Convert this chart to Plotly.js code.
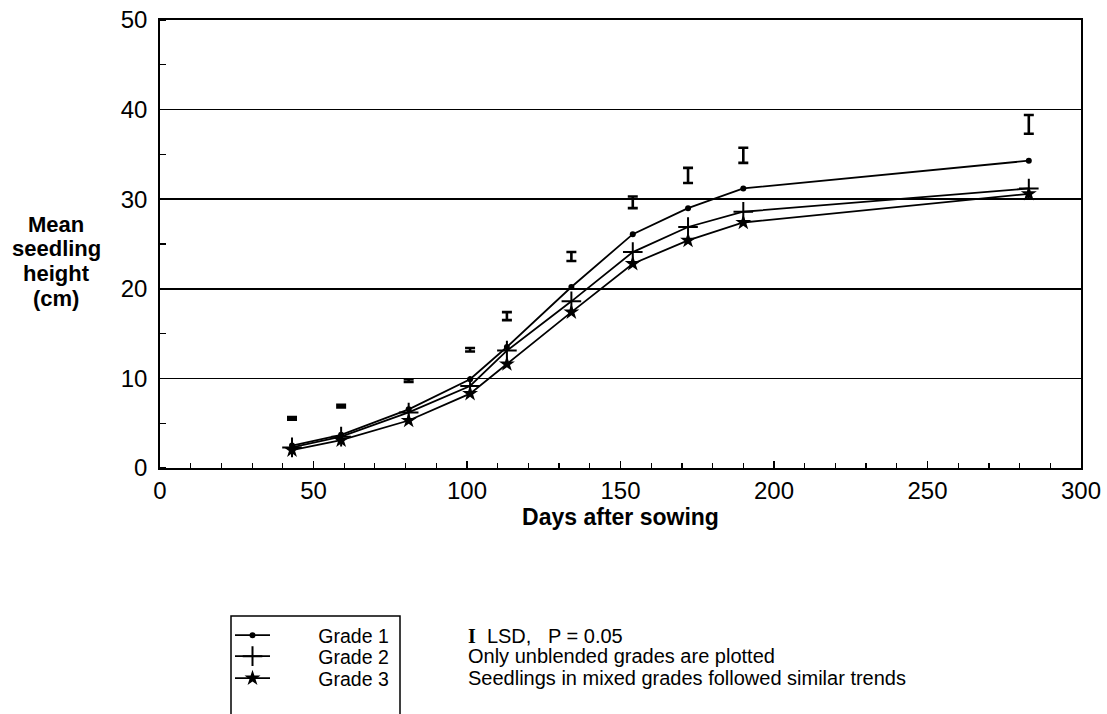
<!DOCTYPE html>
<html>
<head>
<meta charset="utf-8">
<script src="https://cdn.plot.ly/plotly-3.0.1.min.js"></script>
<style>
html,body{margin:0;padding:0;background:#fff;}
#chart{width:1107px;height:714px;}
</style>
</head>
<body>
<div id="chart"></div>
<script>
// Days after sowing at each measurement
const days = [43, 59, 81, 101, 113, 134, 154, 172, 190, 283];
// Mean seedling height (cm)
const grade1 = [2.5, 3.7, 6.55, 9.9, 13.5, 20.2, 26.1, 29.0, 31.2, 34.3];
const grade2 = [2.3, 3.5, 6.2, 9.15, 13.1, 18.6, 24.1, 26.9, 28.6, 31.2];
const grade3 = [2.0, 3.1, 5.3, 8.3, 11.6, 17.4, 22.8, 25.4, 27.4, 30.6];
// LSD (P = 0.05) bars: centre position and length
const lsdCentre = [5.55, 6.9, 9.75, 13.2, 16.95, 23.6, 29.65, 32.65, 34.9, 38.35];
const lsdLength = [0.3, 0.3, 0.3, 0.4, 0.9, 1.0, 1.3, 1.7, 1.7, 2.1];
const xTicks = [0, 50, 100, 150, 200, 250, 300];
const yTicks = [0, 10, 20, 30, 40, 50];
const seriesNames = ["Grade 1", "Grade 2", "Grade 3"];

const FONT = "Liberation Sans, Arial, Helvetica, sans-serif";

// plot area geometry (pixels) for paper-coordinate helpers
const W = 1107, H = 714, ML = 160, MR = 26, MT = 20, MB = 246;
const PW = W - ML - MR, PH = H - MT - MB;
const px = v => (v - ML) / PW;
const py = v => (H - MB - v) / PH;

const lineStyle = {color: "black", width: 1.8};
const pad = "\u00a0".repeat(8);

const traces = [
  {x: days, y: grade1, name: pad + seriesNames[0], legend: "legend", type: "scatter", mode: "lines+markers",
   line: lineStyle, marker: {symbol: "circle", size: 6, color: "black"}},
  {x: days, y: grade2, name: pad + seriesNames[1], legend: "legend2", type: "scatter", mode: "lines+markers",
   line: lineStyle, marker: {symbol: "cross-thin", size: 14, color: "black", line: {color: "black", width: 2}}},
  {x: days, y: grade3, name: pad + seriesNames[2], legend: "legend3", type: "scatter", mode: "lines+markers",
   line: lineStyle, marker: {symbol: "star", size: 12, color: "black"}},
  {x: days, y: lsdCentre, name: "LSD", type: "scatter", mode: "markers", showlegend: false,
   marker: {size: 1, color: "rgba(0,0,0,0)"},
   error_y: {type: "data", array: lsdLength.map(v => v / 2), visible: true,
             color: "black", thickness: 2.6, width: 5}}
];

const yTitleLines = ["Mean", "seedling", "height", "(cm)"];
const yTitlePx = [224, 248, 273, 298];
const annotations = yTitleLines.map((t, i) => ({
  text: "<b>" + t + "</b>", xref: "paper", yref: "paper", x: px(56), y: py(yTitlePx[i]),
  xanchor: "center", yanchor: "middle", showarrow: false,
  font: {family: FONT, size: 22, color: "black"}
}));

const notes = [
  '<span style="font-family:Liberation Serif, Times New Roman, serif;font-weight:bold">I</span>\u00a0\u00a0LSD,\u00a0\u00a0\u00a0P = 0.05',
  "Only unblended grades are plotted",
  "Seedlings in mixed grades followed similar trends"
];
const notesPy = [636, 656, 678];
notes.forEach((t, i) => annotations.push({
  text: t, xref: "paper", yref: "paper", x: px(466), y: py(notesPy[i]),
  xanchor: "left", yanchor: "middle", showarrow: false, align: "left",
  font: {family: FONT, size: 20, color: "black"}
}));

const legendBase = (topPx) => ({
  x: px(230), y: py(topPx), xanchor: "left", yanchor: "top",
  bgcolor: "rgba(0,0,0,0)", borderwidth: 0,
  font: {family: FONT, size: 19.5, color: "black"}, itemwidth: 35
});

const layout = {
  width: W, height: H,
  margin: {l: ML, r: MR, t: MT, b: MB, pad: 0, autoexpand: false},
  paper_bgcolor: "white", plot_bgcolor: "white",
  font: {family: FONT, color: "black"},
  showlegend: true,
  legend: legendBase(616),
  legend2: legendBase(637),
  legend3: legendBase(659),
  xaxis: {
    range: [0, 300], tickvals: xTicks, ticktext: xTicks.map(String),
    ticks: "inside", ticklen: 7, tickwidth: 1.5, tickcolor: "black",
    minor: {dtick: 10, ticks: "inside", ticklen: 5, tickwidth: 1.2, tickcolor: "black"},
    showline: true, linecolor: "black", linewidth: 1.8, mirror: true,
    showgrid: false, zeroline: false,
    tickfont: {family: FONT, size: 24, color: "black"}, ticklabelstandoff: 0,
    title: {text: "<b>Days after sowing</b>", font: {family: FONT, size: 23, color: "black"}, standoff: 0}
  },
  yaxis: {
    range: [0, 50], tickvals: yTicks, ticktext: yTicks.map(String),
    ticks: "",
    minor: {dtick: 5, ticks: "inside", ticklen: 6, tickwidth: 1.2, tickcolor: "black", showgrid: false},
    showline: true, linecolor: "black", linewidth: 1.8, mirror: true,
    showgrid: true, gridcolor: "black", gridwidth: 1.5, zeroline: false,
    tickfont: {family: FONT, size: 24, color: "black"}, ticklabelstandoff: 6
  },
  shapes: [
    {type: "rect", xref: "paper", yref: "paper", x0: px(231), x1: px(400), y0: py(760), y1: py(616),
     line: {color: "black", width: 1.5}, fillcolor: "rgba(0,0,0,0)"}
  ],
  annotations: annotations
};

Plotly.newPlot("chart", traces, layout, {staticPlot: true, displayModeBar: false});
</script>
</body>
</html>
